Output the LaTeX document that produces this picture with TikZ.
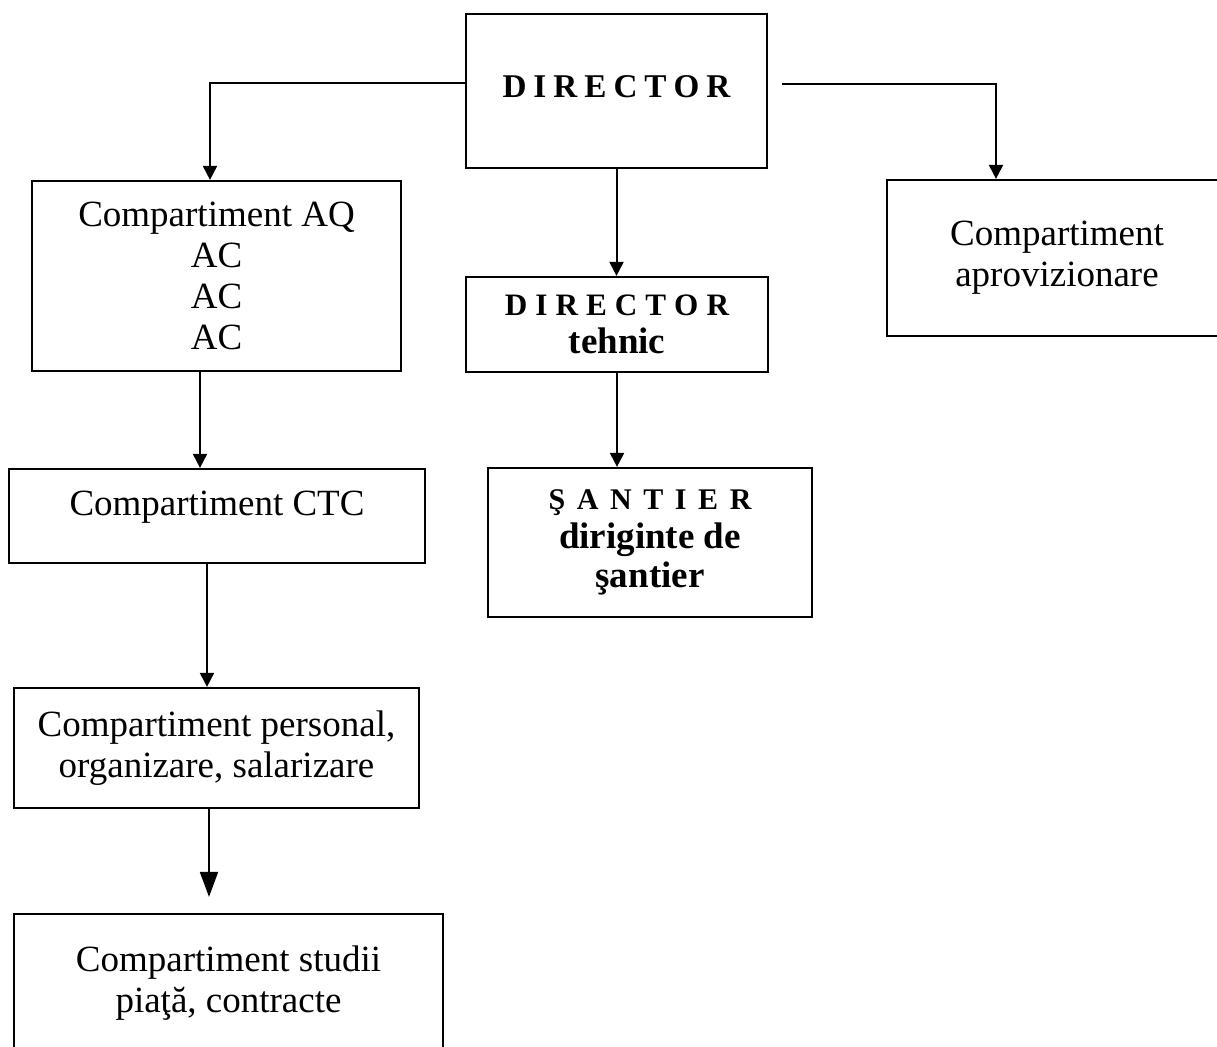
\documentclass[tikz,border=0pt]{standalone}
\usepackage{fontspec}
\setmainfont{Liberation Serif}
\usetikzlibrary{arrows.meta,calc}
\newcommand\dgap{\hspace{3.5pt}}
\newcommand\tgap{\hspace{4pt}}
\newcommand\sgap{\hspace{5.8pt}}
\begin{document}
\begin{tikzpicture}[x=0.5pt,y=-0.5pt,
  box/.style={draw, line width=1.1pt, rectangle, inner sep=0pt, align=center,
    font=\fontsize{18.5}{20.5}\selectfont},
  arr/.style={line width=1pt, -{Triangle[width=7pt,length=7pt]}},
  bigarr/.style={line width=1pt, -{Triangle[width=9pt,length=12.5pt]}}]
\useasboundingbox (0,0) rectangle (1217,1046);
\fill[white] (0,0) rectangle (1217,1046);
\clip (0,0) rectangle (1217,1046);

\node[box, minimum width=150.5pt, minimum height=77pt, text height=11pt, text depth=4.7pt] (dir) at (616.5,91)
  {\fontsize{16.6}{20}\selectfont\bfseries D\dgap I\dgap R\dgap E\dgap C\dgap T\dgap O\dgap R};

\node[box, minimum width=184.5pt, minimum height=95pt] (aq) at (216.5,276)
  {Compartiment AQ\\AC\\AC\\AC};

\node[box, minimum width=208pt, minimum height=47pt, text height=23pt, text depth=24pt] (ctc) at (217,516)
  {Compartiment CTC};

\node[box, minimum width=202.5pt, minimum height=60pt] (pers) at (216.5,748)
  {Compartiment personal,\\organizare, salarizare};

\node[box, minimum width=214.5pt, minimum height=69.5pt] (stud) at (228.5,983.5)
  {Compartiment studii\\piaţă, contracte};

\node[box, minimum width=151pt, minimum height=47.5pt, font=\fontsize{18.5}{19}\selectfont] (tech) at (617,324.5)
  {{\fontsize{15.6}{19}\selectfont\bfseries D\tgap I\tgap R\tgap E\tgap C\tgap T\tgap O\tgap R}\\{\bfseries tehnic}};

\node[box, minimum width=162pt, minimum height=74.5pt, font=\fontsize{18.5}{19.5}\selectfont] (sant) at (650,542.5)
  {{\fontsize{15}{19.5}\selectfont\bfseries Ş\sgap A\sgap N\sgap T\sgap I\sgap E\sgap R}\\{\bfseries diriginte de}\\{\bfseries şantier}};

\node[box, minimum width=170pt, minimum height=78pt] (aprov) at (1057,258)
  {Compartiment\\aprovizionare};

% connectors
\draw[arr] ([yshift=4pt]dir.west) -| ([xshift=-3.25pt]aq.north);
\draw[arr] ([xshift=7pt,yshift=3.5pt]dir.east) -| ([xshift=-30.5pt]aprov.north);
\draw[arr] (dir.south) -- (dir.south |- tech.north);
\draw[arr] (tech.south) -- (tech.south |- sant.north);
\coordinate (a1) at ([xshift=-8.25pt]aq.south);
\draw[arr] (a1) -- (a1 |- ctc.north);
\coordinate (a2) at ([xshift=-5pt]ctc.south);
\draw[arr] (a2) -- (a2 |- pers.north);
\coordinate (a3) at ([xshift=-3.75pt]pers.south);
\draw[bigarr, shorten >=8pt] (a3) -- (a3 |- stud.north);
\end{tikzpicture}
\end{document}
